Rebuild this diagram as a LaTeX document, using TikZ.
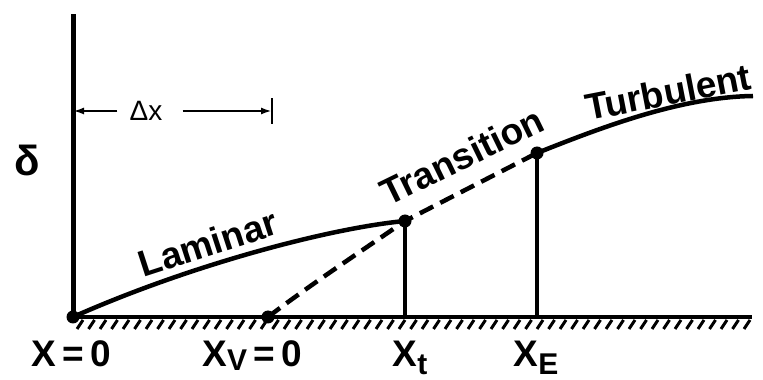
\documentclass[tikz,border=0pt]{standalone}
\usepackage{fontspec}
\setmainfont{Liberation Sans}
\usetikzlibrary{arrows.meta, positioning, calc}

\newcommand{\lowsub}[2][8pt]{\raisebox{-#1}{\fontsize{30}{30}\selectfont #2}}

\begin{document}
\begin{tikzpicture}[x=1pt, y=1pt,
  wall/.style={line width=4.5pt},
  curve/.style={line width=4.5pt},
  dashcurve/.style={line width=4.5pt, dash pattern=on 15pt off 8pt},
  stem/.style={line width=3.5pt},
  dimline/.style={line width=2.5pt, -{Latex[length=11pt, width=7pt]}},
  dot/.style={circle, fill=black, inner sep=0pt, minimum size=13pt},
  xlabel/.style={font=\bfseries\fontsize{37}{40}\selectfont, inner sep=0pt, anchor=base},
  regime/.style={font=\bfseries\fontsize{37}{40}\selectfont, inner sep=0pt}
]
\useasboundingbox (0,0) rectangle (763,380);

% key points
\coordinate (O) at (73,63);
\coordinate (top) at (73,366);
\coordinate (gEnd) at (752,63);
\coordinate (Xv) at (268,63);
\coordinate (Xt) at (405,159);
\coordinate (XE) at (537,227);
\coordinate (turbEnd) at (753,284);

% axis and wall
\draw[wall, line width=5pt] (O) -- (top);
\draw[wall] (O) -- (gEnd);
\foreach \x in {77,88.5,...,745}
  \draw[line width=3pt] (\x,51) -- ++(6,9);

% boundary layer
\draw[curve] (O) .. controls (190,115) and (330,152) .. (Xt);
\draw[dashcurve] (Xv) .. controls (310,95) and (360,128) .. (Xt) -- (XE);
\draw[curve] (XE) .. controls (600,252) and (680,283) .. (turbEnd);
\draw[stem] (Xt) -- (Xt |- O);
\draw[stem] (XE) -- (XE |- O);

\node[dot] (dO) at (O) {};
\node[dot] (dXv) at (Xv) {};
\node[dot] (dXt) at (Xt) {};
\node[dot] (dXE) at (XE) {};

% offset
\node[font=\fontsize{28}{30}\selectfont, inner sep=0pt] (dx) at (146,269) {Δx};
\coordinate (bar) at (272,269);
\draw[dimline] ([xshift=-12pt]dx.west) -- (O |- dx);
\draw[dimline] ([xshift=20pt]dx.east) -- (bar);
\draw[line width=2.5pt] ([yshift=-13pt]bar) -- ([yshift=13pt]bar);

\node[font=\bfseries\fontsize{42}{44}\selectfont, inner sep=0pt] (delta) at (27,220) {δ};

% regimes
\node[regime, rotate=18] (lam) at (208,137) {Laminar};
\node[regime, rotate=26] (trans) at (462,224) {Transition};
\node[regime, rotate=11] (turb) at (668,288) {Turbulent};

% stations
\node[xlabel] (x0) at (71,13) {X\,=\,0};
\node[xlabel] (xv) at (252,13) {X\lowsub[4pt]{V}\,=\,0};
\node[xlabel] (xt) at (410,13) {X\lowsub{t}};
\node[xlabel] (xe) at (536,13) {X\lowsub{E}};
\end{tikzpicture}
\end{document}
